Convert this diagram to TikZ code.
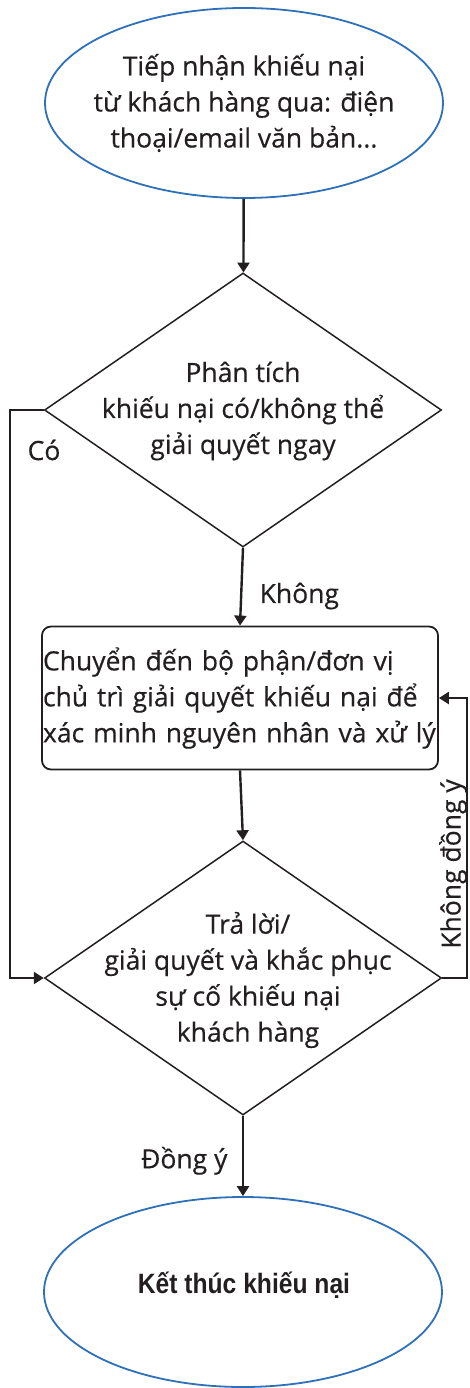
\documentclass[tikz,border=0pt]{standalone}
\usepackage{fontspec}
\setmainfont{Open Sans}[FakeBold=0.4]
\newfontfamily\endfont{Liberation Sans}[FakeStretch=0.88]
\usetikzlibrary{shapes.geometric,arrows.meta,positioning}

\definecolor{termblue}{RGB}{46,112,186}
\definecolor{ink}{RGB}{35,31,32}

\tikzset{
  terminal/.style={ellipse, draw=termblue, line width=1.8pt,
    minimum width=398pt, minimum height=190pt, inner sep=0pt},
  decision/.style={diamond, draw=ink, line width=1.5pt,
    minimum width=397pt, minimum height=274pt, inner sep=0pt},
  process/.style={rectangle, rounded corners=9pt, draw=ink, line width=1.8pt,
    minimum height=143pt, text width=394pt, inner xsep=1pt, align=left,
    text=ink, font=\fontsize{26.5}{36}\selectfont},
  txt/.style={text=ink, font=\fontsize{26.5}{36}\selectfont, align=center},
  lbl/.style={text=ink, font=\fontsize{26.5}{30}\selectfont},
  flow/.style={draw=ink, line width=2.4pt, -{Triangle[width=12pt,length=10pt]}},
}

\begin{document}
\begin{tikzpicture}[x=1pt,y=-1pt]
  \useasboundingbox (0,0) rectangle (470,1388);

  % shapes
  \node[terminal] (receive) at (244,103) {};
  \node[txt] (receivetext) at (receive) {Tiếp nhận khiếu nại\\từ khách hàng qua: điện\\thoại/email văn bản...};

  \node[decision] (analyse) at (243,410) {};
  \node[txt] (analysetext) at (243,411) {Phân tích\\khiếu nại có/không thể\\giải quyết ngay};

  \node[process] (forward) at (240,698) {Chuyển đến bộ phận/đơn vị\\chủ trì giải quyết khiếu nại để\\xác minh nguyên nhân và xử lý};

  \node[decision] (answer) at (243,978) {};
  \node[txt] (answertext) at (248,980) {Trả lời/\\giải quyết và khắc phục\\sự cố khiếu nại\\khách hàng};

  \node[terminal] (close) at (243,1292) {};
  \node[text=ink, font=\endfont\bfseries\fontsize{28}{30}\selectfont] (closetext) at (244,1285) {Kết thúc khiếu nại};

  % side rails
  \coordinate (railleft) at (10,0);
  \coordinate (railright) at (467,0);

  % connectors
  \draw[flow] (receive) -- (analyse);
  \draw[flow] (analyse.south) -- node[lbl, pos=0.62, right=14pt] (no) {Không} (forward.north);
  \draw[flow] (analyse.west) -- (analyse.west -| railleft) |- (answer.west);
  \node[lbl] (yes) at (44,450) {Có};
  \draw[flow] (forward.south) -- (answer.north);
  \draw[flow] (answer.east) -- (answer.east -| railright) |- (forward.east);
  \node[lbl, rotate=90] (disagree) at (453,864) {Không đồng ý};
  \draw[flow] (answer.south) -- node[lbl, pos=0.56, left=11pt] (agree) {Đồng ý} (close.north);
\end{tikzpicture}
\end{document}
